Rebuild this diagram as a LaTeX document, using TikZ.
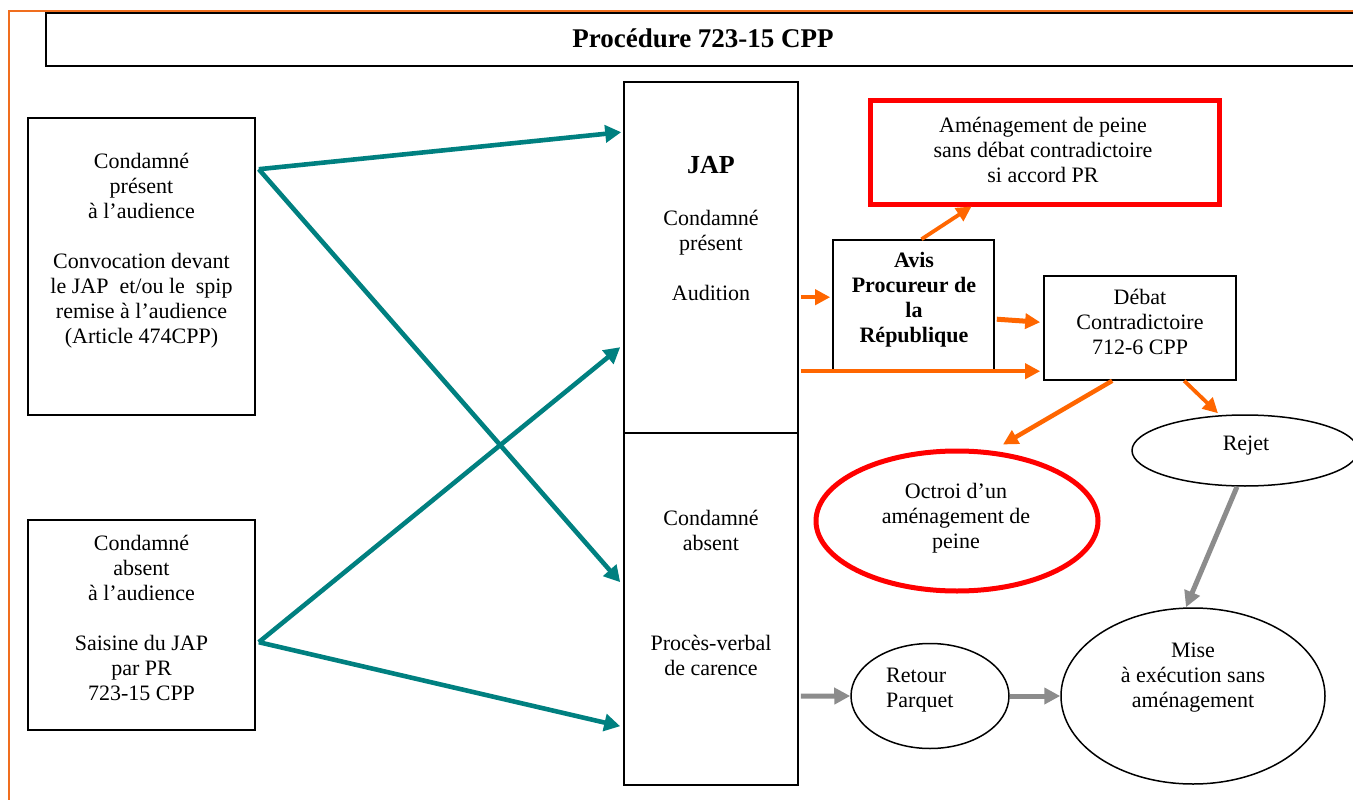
\documentclass[tikz,border=0pt]{standalone}
\usepackage{fontspec}
\setmainfont{Liberation Serif}
\usetikzlibrary{arrows.meta,shapes.geometric,calc}
\definecolor{flowteal}{RGB}{0,128,128}
\definecolor{floworange}{RGB}{255,102,0}
\definecolor{flowgray}{RGB}{140,140,140}
\definecolor{flowred}{RGB}{255,0,0}
\definecolor{frameorange}{RGB}{240,110,30}
\tikzset{
  box/.style={draw=black, line width=1.6pt, fill=white, inner sep=0pt},
  redbox/.style={draw=flowred, line width=5pt, inner sep=0pt},
  oval/.style={ellipse, draw=black, line width=1.5pt, inner sep=0pt},
  redoval/.style={ellipse, draw=flowred, line width=5pt, inner sep=0pt},
  txt/.style={font=\fontsize{22}{25}\selectfont, align=center, inner sep=0pt},
  btxt/.style={font=\fontsize{22}{25}\selectfont\bfseries, align=center, inner sep=0pt},
  tealarrow/.style={draw=flowteal, line width=4.6pt, -{Triangle[length=16pt,width=17pt]}},
  orangearrow/.style={draw=floworange, line width=3.8pt, -{Triangle[length=15pt,width=15pt]}},
  grayarrow/.style={draw=flowgray, line width=5pt, -{Triangle[length=16pt,width=16pt]}},
}
\begin{document}
\begin{tikzpicture}[x=1pt,y=-1pt]
\useasboundingbox (0,0) rectangle (1353,800);

% page frame and title bar
\draw[frameorange, line width=2pt] (9,801) -- (9,11) -- (1360,11);
\node[box, minimum width=1320pt, minimum height=53pt, anchor=north west] (title) at (45,12.5) {};
\node[btxt, font=\fontsize{27}{30}\selectfont\bfseries] (titletxt) at (703,38) {Procédure 723-15 CPP};

% left column: convicted person present / absent
\node[box, minimum width=227pt, minimum height=297pt] (A) at (141.5,266.5) {};
\node[txt] (Atxt) at (141.5,251) {Condamné\\présent\\à l’audience\\[25pt]Convocation devant\\le JAP~ et/ou le~ spip\\remise à l’audience\\(Article 474CPP)};
\node[box, minimum width=227pt, minimum height=210pt] (B) at (141.5,625) {};
\node[txt] (Btxt) at (141.5,617.5) {Condamné\\absent\\à l’audience\\[25pt]Saisine du JAP\\par PR\\723-15 CPP};

% JAP column
\node[box, minimum width=174pt, minimum height=351pt] (jap1) at (711,257.5) {};
\node[box, minimum width=174pt, minimum height=352pt] (jap2) at (711,609) {};
\node[btxt, font=\fontsize{26}{28}\selectfont\bfseries] (japtitle) at (711,165) {JAP};
\node[txt] (jap1txt) at (711,255.5) {Condamné\\présent\\[25pt]Audition};
\node[txt] (jap2txt) at (711,592.5) {Condamné\\absent\\[75pt]Procès-verbal\\de carence};

% prosecutor opinion and hearing
\node[box, minimum width=161pt, minimum height=130pt] (avis) at (913.5,305) {};
\node[btxt] (avistxt) at (914,300) {Avis\\Procureur de\\la\\République};
\node[redbox, minimum width=349pt, minimum height=103pt] (amen) at (1044.5,152.5) {};
\node[txt] (amentxt) at (1043,149.5) {Aménagement de peine\\sans débat contradictoire\\si accord PR};
\node[box, minimum width=192pt, minimum height=104pt] (debat) at (1140,328) {};
\node[txt] (debattxt) at (1140,322) {Débat\\Contradictoire\\712-6 CPP};

% outcomes
\node[redoval, minimum width=282pt, minimum height=140pt] (octroi) at (957,521) {};
\node[txt] (octroitxt) at (956,518) {Octroi d’un\\aménagement de\\peine};
\node[oval, minimum width=226pt, minimum height=71pt] (rejet) at (1245,450.5) {};
\node[txt] (rejettxt) at (1246,446) {Rejet};
\node[oval, minimum width=158pt, minimum height=105pt] (retour) at (930,696) {};
\node[txt, align=left, anchor=west] (retourtxt) at (886,690.5) {Retour\\Parquet};
\node[oval, minimum width=264pt, minimum height=176pt] (mise) at (1193,696) {};
\node[txt] (misetxt) at (1193,678) {Mise\\à exécution sans\\aménagement};

% referrals to the JAP
\draw[tealarrow] ($(A.north east)+(3,52)$) -- ($(jap1.north west)+(-2,51)$);
\draw[tealarrow] ($(A.north east)+(3,52)$) -- ($(jap2.north west)+(-3,150)$);
\draw[tealarrow] ($(B.north east)+(3,123)$) -- ($(jap1.north west)+(-3,266)$);
\draw[tealarrow] ($(B.north east)+(3,123)$) -- ($(jap2.north west)+(-3,294)$);

% hearing of the present convicted person
\draw[orangearrow] ($(jap1.north east)+(2,216)$) -- ($(avis.north west)+(-2,58)$);
\draw[orangearrow, line width=5pt] ($(avis.north east)+(2,80)$) -- ($(debat.north west)+(-3,47)$);
\draw[orangearrow] ($(jap1.north east)+(2,290)$) -- ($(debat.north west)+(-3,96)$);
\draw[orangearrow] ($(avis.north)+(8,0)$) -- ($(amen.south west)+(104,0)$);
\draw[orangearrow, line width=4.5pt] ($(debat.south west)+(69,0)$) -- ($(octroi.north)+(46,-4)$);
\draw[orangearrow] ($(debat.south west)+(141,0)$) -- ($(rejet.north)+(-27,-1)$);

% absent convicted person and rejection
\draw[grayarrow] ($(jap2.north east)+(2,264)$) -- (retour.west);
\draw[grayarrow] (retour.east) -- (mise.west);
\draw[grayarrow] ($(rejet.south)+(-8,0)$) -- ($(mise.north)+(-7,0)$);
\end{tikzpicture}
\end{document}
